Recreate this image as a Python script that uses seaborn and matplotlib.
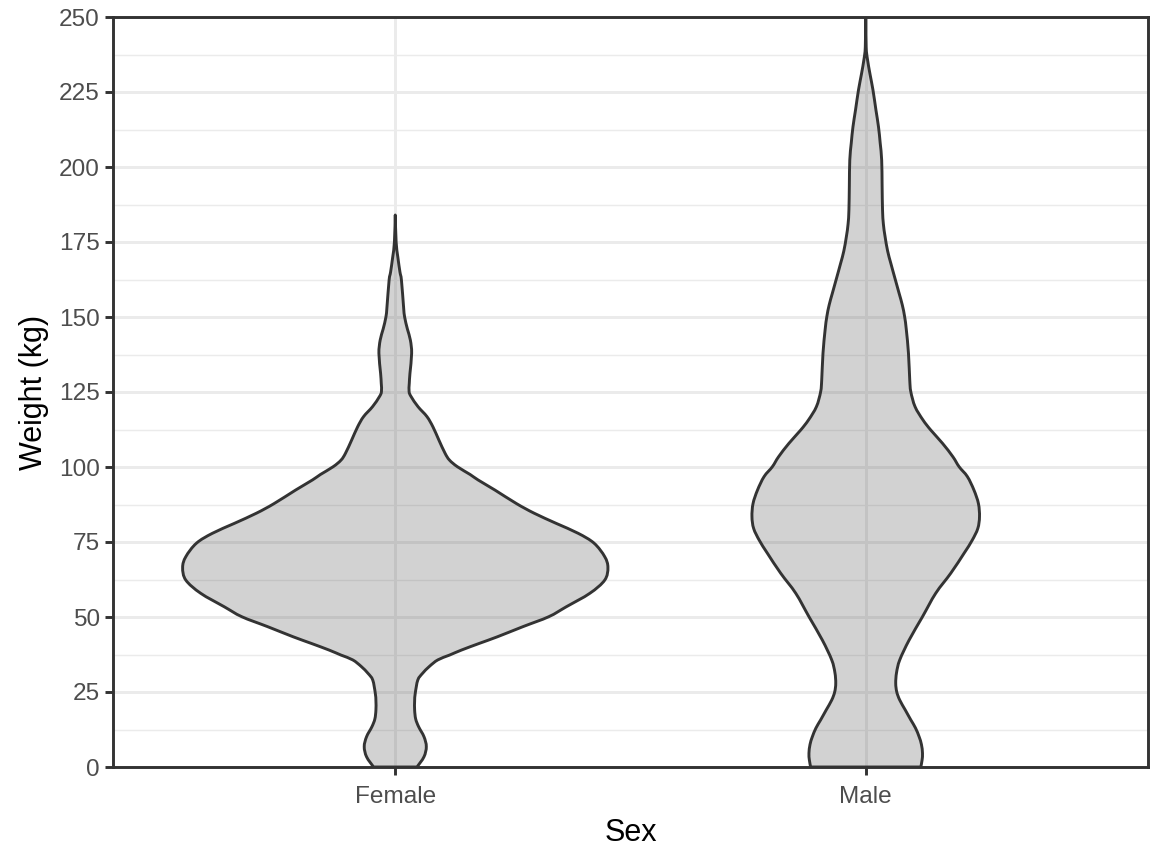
import numpy as np
import matplotlib
matplotlib.use("Agg")
import matplotlib.pyplot as plt
from matplotlib.path import Path
from matplotlib.patches import PathPatch
import seaborn as sns

# categories on the x axis
categories = ["Female", "Male"]

# density profile (weight in kg, relative density, Female max = 1)
female_weight = [0.0, 3.4, 6.8, 10.1, 13.4, 16.0, 19.0, 22.0, 24.6, 29.0, 31.2, 33.5,
                 35.7, 37.3, 39.0, 41.2, 43.4, 46.8, 50.1, 53.4, 57.9, 62.3, 66.5,
                 70.1, 74.6, 77.9, 81.2, 84.6, 87.8, 92.3, 95.7, 97.5, 100.1, 102.3,
                 104.6, 109.0, 113.4, 116.8, 120.1, 123.4, 125.1, 128.0, 131.2, 137.9,
                 142.3, 146.0, 150.0, 153.4, 162.3, 165.0, 170.0, 175.0, 184.0]
female_density = [0.102, 0.135, 0.146, 0.135, 0.110, 0.096, 0.091, 0.091, 0.094, 0.106,
                  0.128, 0.160, 0.200, 0.255, 0.312, 0.395, 0.480, 0.601, 0.722, 0.804,
                  0.915, 0.985, 1.000, 0.985, 0.935, 0.860, 0.757, 0.653, 0.570, 0.469,
                  0.389, 0.352, 0.292, 0.255, 0.234, 0.205, 0.177, 0.149, 0.107, 0.075,
                  0.065, 0.066, 0.069, 0.077, 0.071, 0.057, 0.044, 0.039, 0.029, 0.022,
                  0.012, 0.004, 0.0]

male_weight = [0.0, 2.3, 4.6, 7.5, 10.1, 13.0, 15.7, 19.0, 22.3, 25.0, 27.9, 31.5,
               35.7, 42.3, 50.1, 57.9, 64.6, 71.2, 75.5, 79.5, 83.4, 87.8, 92.3, 96.8,
               100.1, 103.4, 107.9, 112.3, 115.7, 120.1, 125.1, 129.0, 137.9, 145.7,
               150.1, 154.0, 157.9, 163.0, 167.9, 172.0, 176.8, 181.0, 185.7, 194.0,
               202.3, 208.0, 213.4, 219.0, 225.7, 231.0, 236.0, 240.0, 250.0]
male_density = [0.259, 0.265, 0.267, 0.262, 0.251, 0.234, 0.212, 0.186, 0.160, 0.146,
                0.141, 0.145, 0.160, 0.204, 0.267, 0.329, 0.400, 0.462, 0.500, 0.527,
                0.535, 0.530, 0.509, 0.478, 0.439, 0.410, 0.361, 0.306, 0.269, 0.232,
                0.212, 0.207, 0.201, 0.191, 0.183, 0.172, 0.157, 0.137, 0.118, 0.103,
                0.091, 0.083, 0.079, 0.077, 0.075, 0.068, 0.060, 0.048, 0.034, 0.020,
                0.008, 0.002, 0.0]

y_ticks = [0, 25, 50, 75, 100, 125, 150, 175, 200, 225, 250]
y_minor = [12.5, 37.5, 62.5, 87.5, 112.5, 137.5, 162.5, 187.5, 212.5, 237.5]


def curve_through(pts):
    # open catmull-rom curve through the read points, as bezier segments
    n = len(pts)
    verts, codes = [], []
    for i in range(n - 1):
        p0 = pts[max(i - 1, 0)]
        p1 = pts[i]
        p2 = pts[i + 1]
        p3 = pts[min(i + 2, n - 1)]
        verts += [p1 + (p2 - p0) / 6, p2 - (p3 - p1) / 6, p2]
        codes += [Path.CURVE4] * 3
    return verts, codes


def violin_path(pos, w, half):
    left = np.column_stack([pos - half, w])
    right = np.column_stack([pos + half, w])[::-1]
    verts = [left[0]]
    codes = [Path.MOVETO]
    v, c = curve_through(left)
    verts += v
    codes += c
    verts.append(right[0])
    codes.append(Path.LINETO)
    v, c = curve_through(right)
    verts += v
    codes += c
    verts.append(left[0])
    codes.append(Path.CLOSEPOLY)
    return Path(verts, codes)


sns.set_theme(style="white")
plt.rcParams["font.family"] = ["Liberation Sans", "DejaVu Sans"]

fig = plt.figure(figsize=(11.66, 8.64), dpi=100)
ax = fig.add_axes([113 / 1166, 1 - 767 / 864, (1148 - 113) / 1166, (767 - 17) / 864])

grid_col = "#EBEBEB"
max_half = 0.452  # half-width of the widest violin in category units

profiles = [(female_weight, female_density), (male_weight, male_density)]
for pos, (w, d) in enumerate(profiles):
    half = np.asarray(d) * max_half
    patch = PathPatch(violin_path(pos, np.asarray(w), half),
                      facecolor=(0.31, 0.31, 0.31, 0.25), edgecolor="#333333",
                      linewidth=2.1, zorder=2, joinstyle="round")
    ax.add_patch(patch)

ax.set_xlim(-0.6, 1.6)
ax.set_ylim(0, 250)
ax.set_xticks([0, 1])
ax.set_xticklabels(categories)
ax.set_yticks(y_ticks)
ax.set_yticks(y_minor, minor=True)

ax.set_axisbelow(True)
ax.grid(True, which="major", color=grid_col, linewidth=2.1)
ax.grid(True, which="minor", axis="y", color=grid_col, linewidth=1.05)

for sp in ax.spines.values():
    sp.set_visible(True)
    sp.set_color("#333333")
    sp.set_linewidth(2.1)

ax.tick_params(axis="both", which="major", direction="out", length=5.5, width=2.1,
               color="#333333", labelcolor="#4D4D4D", labelsize=17.6, pad=4,
               left=True, bottom=True)
ax.tick_params(axis="x", which="major", pad=8.3)
ax.tick_params(axis="both", which="minor", length=0)

ax.set_xlabel("Sex", fontsize=22, color="black", labelpad=7)
ax.set_ylabel("Weight (kg)", fontsize=22, color="black", labelpad=7)

fig.savefig("out.png", dpi=100)
